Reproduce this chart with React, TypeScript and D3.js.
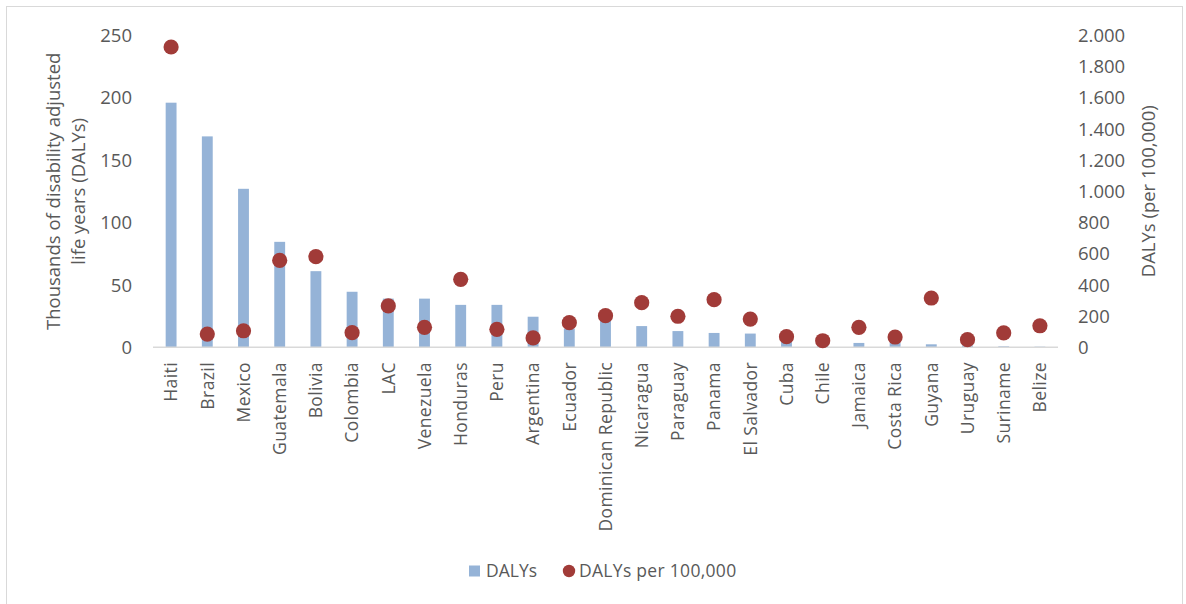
import React from "react";
import * as d3 from "d3";

// Countries (and the LAC regional aggregate), ordered by total burden
const categories = [
  "Haiti", "Brazil", "Mexico", "Guatemala", "Bolivia", "Colombia", "LAC",
  "Venezuela", "Honduras", "Peru", "Argentina", "Ecuador", "Dominican Republic",
  "Nicaragua", "Paraguay", "Panama", "El Salvador", "Cuba", "Chile", "Jamaica",
  "Costa Rica", "Guyana", "Uruguay", "Suriname", "Belize",
];

// Thousands of DALYs (left axis)
const dalys = [
  196, 169, 127, 84.5, 61, 44.5, 39, 39, 34, 34, 24.5, 15, 22,
  17, 13, 11.5, 11, 5, 2, 3.5, 3.5, 2.4, 1.5, 0.8, 0.5,
];

// DALYs per 100,000 population (right axis)
const dalysPer100k = [
  1925, 85, 106, 557, 581, 94, 265, 128, 436, 115, 60, 158, 203,
  286, 199, 305, 181, 68, 42, 128, 66, 316, 49, 92, 138,
];

const leftTicks = [0, 50, 100, 150, 200, 250];
const rightTicks = [0, 200, 400, 600, 800, 1000, 1200, 1400, 1600, 1800, 2000];

const W = 1186;
const H = 604;
const FONT = "'Open Sans', 'Noto Sans', sans-serif";
const TEXT = "#595959";
const BAR = "#95b3d7";
const DOT = "#a13b38";

const plot = { left: 153, right: 1058, top: 35.3, bottom: 347.3 };

const fmtRight = d3.formatLocale({
  decimal: ",",
  thousands: ".",
  grouping: [3],
  currency: ["", ""],
}).format(",");

export default function App() {
  const x = d3.scaleBand<string>().domain(categories).range([plot.left, plot.right]).padding(0);
  const yL = d3.scaleLinear().domain([0, 250]).range([plot.bottom, plot.top]);
  const yR = d3.scaleLinear().domain([0, 2000]).range([plot.bottom, plot.top]);
  const bw = x.bandwidth() * 0.3;
  const cx = (c: string) => (x(c) as number) + x.bandwidth() / 2;
  const midY = (plot.top + plot.bottom) / 2;

  return (
    <svg
      width={W}
      height={H}
      style={{ position: "absolute", left: 0, top: 0, background: "#fff" }}
      fontFamily={FONT}
    >
      <rect x={6.5} y={6.5} width={W - 10} height={H - 4} fill="#fff" stroke="#d9d9d9" strokeWidth={1} />

      {/* bars: DALYs in thousands */}
      {categories.map((c, i) => (
        <rect
          key={"b" + c}
          x={cx(c) - bw / 2}
          y={yL(dalys[i])}
          width={bw}
          height={plot.bottom - yL(dalys[i])}
          fill={BAR}
        />
      ))}

      {/* category axis line */}
      <line x1={plot.left} x2={plot.right} y1={plot.bottom} y2={plot.bottom} stroke="#d9d9d9" strokeWidth={1.5} />

      {/* markers: DALYs per 100,000 */}
      {categories.map((c, i) => (
        <circle key={"d" + c} cx={cx(c)} cy={yR(dalysPer100k[i])} r={7.6} fill={DOT} />
      ))}

      {/* left tick labels */}
      {leftTicks.map((t) => (
        <text key={"l" + t} x={132} y={yL(t)} dy="0.36em" textAnchor="end" fontSize={18.5} fill={TEXT}>
          {t}
        </text>
      ))}

      {/* right tick labels */}
      {rightTicks.map((t) => (
        <text key={"r" + t} x={1078} y={yR(t)} dy="0.36em" textAnchor="start" fontSize={18.5} fill={TEXT}>
          {fmtRight(t)}
        </text>
      ))}

      {/* category labels */}
      {categories.map((c) => (
        <text
          key={"c" + c}
          transform={`translate(${cx(c) + 6.2},${362})rotate(-90)`}
          textAnchor="end"
          fontSize={17.5}
          letterSpacing={0.4}
          fill={TEXT}
        >
          {c}
        </text>
      ))}

      {/* left axis title */}
      <text transform={`translate(60,${midY})rotate(-90)`} textAnchor="middle" fontSize={18.5} fill={TEXT}>
        Thousands of disability adjusted
      </text>
      <text transform={`translate(85,${midY})rotate(-90)`} textAnchor="middle" fontSize={18.5} fill={TEXT}>
        life years (DALYs)
      </text>

      {/* right axis title */}
      <text transform={`translate(1155,${midY})rotate(-90)`} textAnchor="middle" fontSize={18.5} fill={TEXT}>
        DALYs (per 100,000)
      </text>

      {/* legend */}
      <rect x={469} y={565.5} width={11} height={11} fill={BAR} />
      <text x={486} y={577} fontSize={17.5} fill={TEXT}>
        DALYs
      </text>
      <circle cx={569} cy={571} r={6.2} fill={DOT} />
      <text x={579} y={577} fontSize={17.5} letterSpacing={0.3} fill={TEXT}>
        DALYs per 100,000
      </text>
    </svg>
  );
}
